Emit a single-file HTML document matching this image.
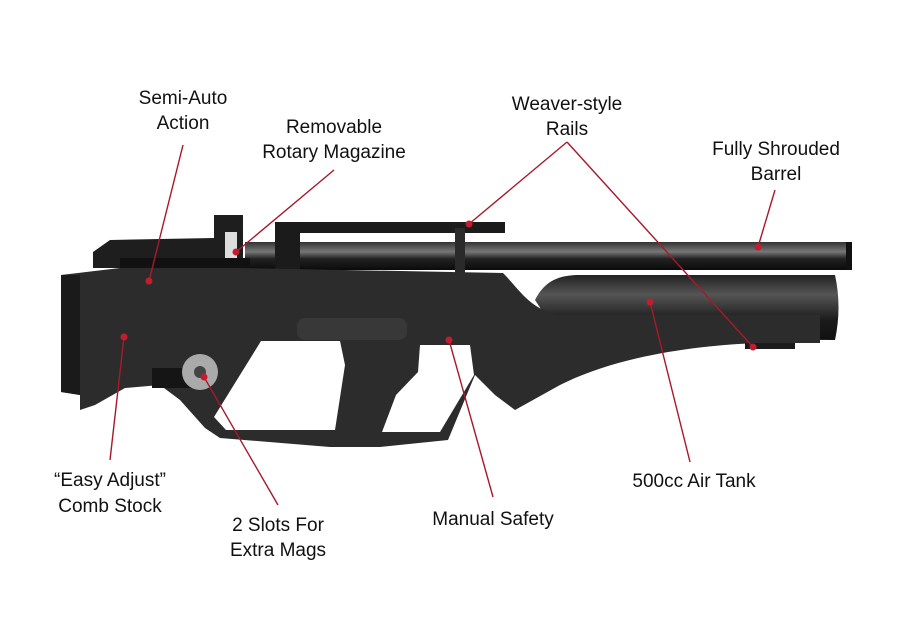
<!DOCTYPE html>
<html><head><meta charset="utf-8"><style>
html,body{margin:0;padding:0;background:#fff;}
svg{display:block}
text{font-family:"Liberation Sans",sans-serif;font-size:19px;fill:#111;text-anchor:middle}
</style></head><body>
<svg width="901" height="643" viewBox="0 0 901 643">
<defs>
<linearGradient id="bar" x1="0" y1="0" x2="0" y2="1"><stop offset="0" stop-color="#333"/><stop offset=".35" stop-color="#777"/><stop offset=".6" stop-color="#222"/><stop offset="1" stop-color="#0a0a0a"/></linearGradient>
<linearGradient id="tank" x1="0" y1="0" x2="0" y2="1"><stop offset="0" stop-color="#222"/><stop offset=".3" stop-color="#555"/><stop offset=".7" stop-color="#1a1a1a"/><stop offset="1" stop-color="#111"/></linearGradient>
</defs>
<!-- tank -->
<path d="M535,300 C545,280 560,275 580,275 L835,275 Q842,307 835,340 L560,338 Z" fill="url(#tank)"/>
<!-- barrel -->
<rect x="245" y="242" width="605" height="28" fill="url(#bar)"/>
<rect x="846" y="242" width="6" height="28" fill="#111"/>
<!-- top rail -->
<rect x="275" y="222" width="230" height="11" fill="#1b1b1b"/>
<rect x="275" y="228" width="25" height="42" fill="#1b1b1b"/>
<rect x="455" y="228" width="10" height="45" fill="#2a2a2a"/>
<!-- rear plate & sight -->
<path d="M93,252 L110,240 L214,238 L214,215 L243,215 L243,268 L93,268 Z" fill="#1e1e1e"/>
<rect x="225" y="232" width="12" height="30" fill="#ddd"/>
<rect x="120" y="258" width="130" height="20" fill="#111"/>
<!-- body -->
<path fill-rule="evenodd" fill="#2c2c2c" d="M61,275 L120,268 L240,268 L503,273 C520,290 530,310 560,315 L820,315 L820,343 L760,343 C700,345 620,355 560,385 L515,410 L495,395 L475,375 L448,440 L380,447 L330,447 L220,438 L205,428 L180,400 L160,385 L125,388 L95,405 L80,410 L80,395 L61,392 Z
M261,341 L340,341 L345,365 L335,430 L226,430 L214,417 Z
M420,345 L470,345 L474,375 L440,432 L382,432 L396,395 L418,372 Z"/>
<path d="M61,275 L80,275 L80,395 L61,392 Z" fill="#1a1a1a"/>
<rect x="297" y="318" width="110" height="22" rx="8" fill="#383838"/>
<rect x="152" y="368" width="50" height="20" fill="#151515"/>
<circle cx="200" cy="372" r="18" fill="#aaa"/>
<circle cx="200" cy="372" r="6" fill="#444"/>
<rect x="745" y="343" width="50" height="6" fill="#1b1b1b"/>
<!-- connectors -->
<g stroke="#a8192b" stroke-width="1.4" fill="none">
<line x1="183" y1="145" x2="149" y2="281"/>
<line x1="334" y1="170" x2="236" y2="252"/>
<line x1="567" y1="142" x2="469" y2="224"/>
<line x1="567" y1="142" x2="753" y2="347"/>
<line x1="775" y1="190" x2="758" y2="247"/>
<line x1="110" y1="460" x2="124" y2="337"/>
<line x1="278" y1="505" x2="204" y2="377"/>
<line x1="493" y1="497" x2="449" y2="340"/>
<line x1="690" y1="462" x2="650" y2="302"/>
</g>
<g fill="#c21d2e">
<circle cx="149" cy="281" r="3.5"/><circle cx="236" cy="252" r="3.5"/><circle cx="469" cy="224" r="3.5"/>
<circle cx="753" cy="347" r="3.5"/><circle cx="758" cy="247" r="3.5"/><circle cx="124" cy="337" r="3.5"/>
<circle cx="204" cy="377" r="3.5"/><circle cx="449" cy="340" r="3.5"/><circle cx="650" cy="302" r="3.5"/>
</g>
<text x="183" y="104">Semi-Auto</text><text x="183" y="129">Action</text>
<text x="334" y="133">Removable</text><text x="334" y="158">Rotary Magazine</text>
<text x="567" y="110">Weaver-style</text><text x="567" y="135">Rails</text>
<text x="776" y="155">Fully Shrouded</text><text x="776" y="180">Barrel</text>
<text x="110" y="486">“Easy Adjust”</text><text x="110" y="512">Comb Stock</text>
<text x="278" y="531">2 Slots For</text><text x="278" y="556">Extra Mags</text>
<text x="493" y="525">Manual Safety</text>
<text x="694" y="487">500cc Air Tank</text>
</svg>
</body></html>
